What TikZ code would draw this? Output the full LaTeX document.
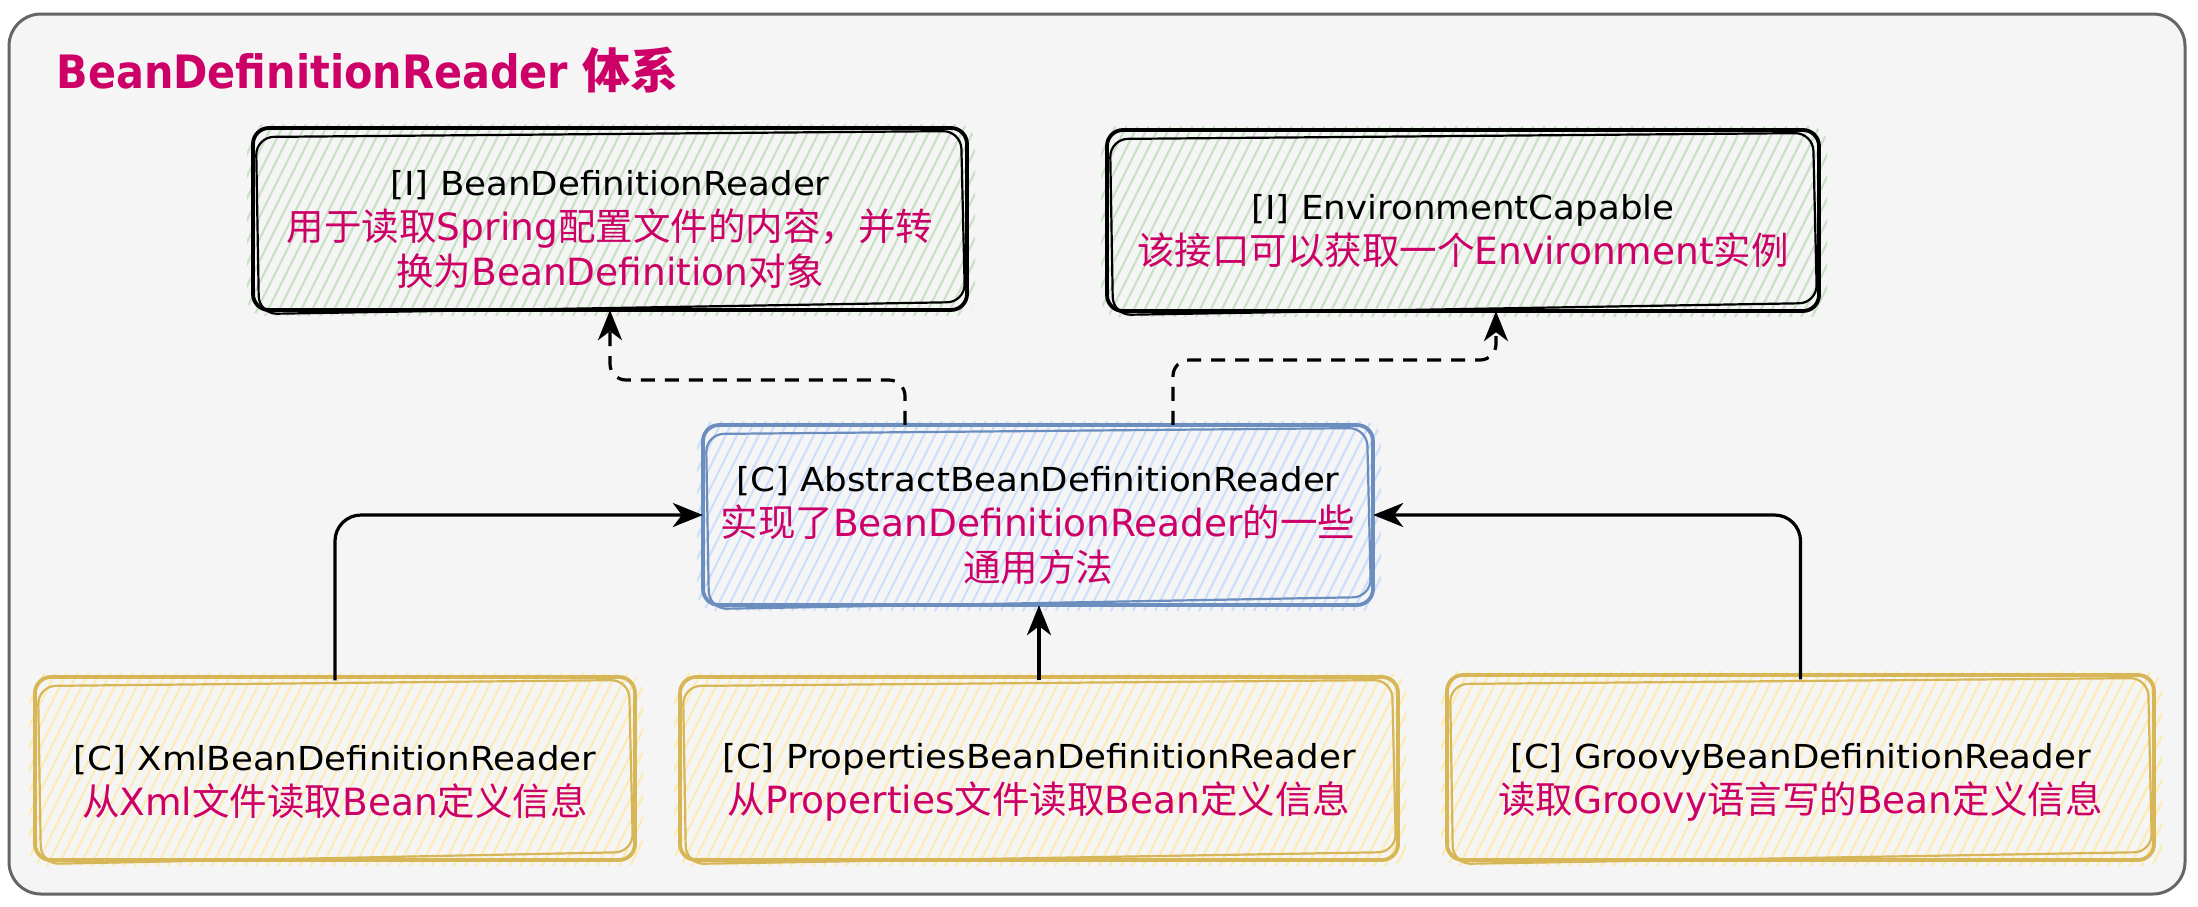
\documentclass[tikz,border=0pt]{standalone}
\usepackage{fontspec}
\setmainfont{DejaVu Sans}
\newfontfamily\cjkfont{Noto Sans CJK SC}
\newfontfamily\blkfont[FakeStretch=1.08]{DejaVu Sans}
\newfontfamily\ttlfont[FakeStretch=0.9]{DejaVu Sans}
\usetikzlibrary{arrows.meta}
\definecolor{pinkc}{HTML}{CC0066}
\definecolor{bgc}{HTML}{F5F5F5}
\definecolor{bordc}{HTML}{666666}
\definecolor{gfill}{HTML}{C9E2C6}
\definecolor{bfill}{HTML}{CDDFFA}
\definecolor{bstroke}{HTML}{6C8EBF}
\definecolor{yfill}{HTML}{FCEBB5}
\definecolor{ystroke}{HTML}{D6B656}
\newcommand{\cjkt}[1]{{\cjkfont #1}}
\newcommand{\blkt}[1]{{\color{black}\blkfont\fontsize{33}{45}\selectfont\rule{0pt}{46pt}#1}}
% hachure fill + sketchy outline: x1 y1 x2 y2 fill stroke
\newcommand{\skbox}[6]{%
  \begin{scope}
    \clip[rounded corners=18pt] (#1-6,#2-4) rectangle (#3+8,#4+6);
    \foreach \k in {0,...,80}{%
      \draw[#5, line width=2.2pt] (#1-120+11*\k,#4+6) -- ++(100,-200);
    }
  \end{scope}
  \draw[#6, line width=3.8pt, rounded corners=16pt] (#1,#2) rectangle (#3,#4);
  \draw[#6, line width=2.2pt, rounded corners=18pt]
    (#1+3,#2+9) -- (#3-6,#2+3) -- (#3-2,#4-8) -- (#1+6,#4+4) -- cycle;
}
\tikzset{
  boxtext/.style={inner sep=0pt, align=center, text=pinkc,
    font=\fontsize{37.5}{45}\selectfont},
  conn/.style={draw=black, line width=3.2pt, rounded corners=26pt,
    -{Stealth[length=30pt,width=24pt,inset=9pt]}},
  dconn/.style={draw=black, line width=3.2pt, rounded corners=16pt,
    dash pattern=on 14pt off 10pt,
    -{Stealth[length=30pt,width=24pt,inset=9pt]}},
}
\begin{document}
\begin{tikzpicture}[x=1pt,y=-1pt]
\useasboundingbox (0,0) rectangle (2198,906);
\fill[white] (0,0) rectangle (2198,906);
\draw[bordc, line width=3pt, fill=bgc, rounded corners=32pt] (9,14) rectangle (2185,894);

\node[anchor=west, text=pinkc] (title) at (53,70)
  {\ttlfont\bfseries\fontsize{46}{52}\selectfont BeanDefinitionReader {\cjkfont\fontsize{48}{52}\selectfont 体系}};

% boxes
\skbox{253}{128}{967}{310}{gfill}{black}
\skbox{1107}{130}{1819}{311}{gfill}{black}
\skbox{703}{425}{1373}{605}{bfill}{bstroke}
\skbox{35}{677}{635}{860}{yfill}{ystroke}
\skbox{680}{677}{1398}{860}{yfill}{ystroke}
\skbox{1447}{675}{2154}{860}{yfill}{ystroke}

\node[boxtext, minimum width=714pt, minimum height=182pt] (n1) at (610,219)
  {\blkt{[I] BeanDefinitionReader}\\
   \cjkt{用于读取}Spring\cjkt{配置文件的内容，并转}\\
   \cjkt{换为}BeanDefinition\cjkt{对象}};
\node[boxtext, minimum width=712pt, minimum height=181pt] (n2) at (1463,220.5)
  {\blkt{[I] EnvironmentCapable}\\
   \cjkt{该接口可以获取一个}Environment\cjkt{实例}};
\node[boxtext, minimum width=670pt, minimum height=180pt] (n3) at (1038,515)
  {\blkt{[C] AbstractBeanDefinitionReader}\\
   \cjkt{实现了}BeanDefinitionReader\cjkt{的一些}\\
   \cjkt{通用方法}};
\node[boxtext, minimum width=600pt, minimum height=183pt] (n4) at (335,772)
  {\blkt{[C] XmlBeanDefinitionReader}\\
   \cjkt{从}Xml\cjkt{文件读取}Bean\cjkt{定义信息}};
\node[boxtext, minimum width=718pt, minimum height=183pt] (n5) at (1039,772)
  {\blkt{[C] PropertiesBeanDefinitionReader}\\
   \cjkt{从}Properties\cjkt{文件读取}Bean\cjkt{定义信息}};
\node[boxtext, minimum width=707pt, minimum height=185pt] (n6) at (1800.5,772)
  {\blkt{[C] GroovyBeanDefinitionReader}\\
   \cjkt{读取}Groovy\cjkt{语言写的}Bean\cjkt{定义信息}};

% connectors
\coordinate (d1) at (0,380);
\coordinate (d2) at (0,360);
\draw[dconn] ([xshift=-133pt]n3.north) -- ([xshift=-133pt]n3.north |- d1)
  -- (n1.south |- d1) -- (n1.south);
\draw[dconn] ([xshift=135pt]n3.north) -- ([xshift=135pt]n3.north |- d2)
  -- ([xshift=33pt]n2.south |- d2) -- ([xshift=33pt]n2.south);
\draw[conn] (n4.north) |- (n3.west);
\draw[conn] (n6.north) |- (n3.east);
\draw[conn] (n5.north) -- (n5.north |- n3.south);
\end{tikzpicture}
\end{document}
